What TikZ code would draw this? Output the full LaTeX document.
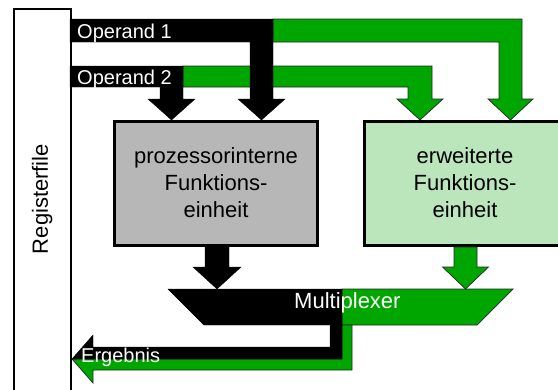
\documentclass[tikz,border=0pt]{standalone}
\usepackage{fontspec}
\setmainfont{Liberation Sans}
\definecolor{busgreen}{RGB}{0,166,0}
\definecolor{unitgrey}{RGB}{183,183,183}
\definecolor{unitgreen}{RGB}{187,230,187}

\begin{document}
\begin{tikzpicture}[x=1pt,y=-1pt,
  blackbus/.style={fill=black,draw=black,line width=0.4pt,line join=miter},
  greenbus/.style={fill=busgreen,draw=black!85,line width=0.7pt,line join=miter},
  unit/.style={draw=black,line width=3pt,inner sep=0pt,align=center,
               font=\fontsize{22}{27}\selectfont},
  bustext/.style={text=white,inner sep=0pt,font=\fontsize{20}{24}\selectfont},
  muxtext/.style={text=white,inner sep=0pt,font=\fontsize{22}{26}\selectfont}
]
\useasboundingbox (0,0) rectangle (558,389);
\begin{scope}
\clip (0,0) rectangle (558,389);

% register file column
\node[draw=black,line width=1.5pt,fill=white,minimum width=57pt,
      minimum height=400pt,anchor=north west] (regfile) at (13,8) {};
\node[rotate=90,anchor=base,font=\fontsize{22}{26}\selectfont]
      (reglabel) at (48,199) {Registerfile};

% operand buses (green branches first, black on top)
\draw[greenbus] (183,66) -- (432,66) -- (432,99) -- (443,99) -- (420,120)
  -- (397,99) -- (408,99) -- (408,87) -- (183,87) -- cycle;
\draw[greenbus] (273,19) -- (522,19) -- (522,99) -- (533,99) -- (510.5,120)
  -- (488,99) -- (499,99) -- (499,42) -- (273,42) -- cycle;
\draw[blackbus] (70,19) -- (273,19) -- (273,99) -- (285,99) -- (261.5,120)
  -- (238,99) -- (250,99) -- (250,42) -- (70,42) -- cycle;
\draw[blackbus] (70,66) -- (183,66) -- (183,99) -- (195,99) -- (171.5,120)
  -- (148,99) -- (160,99) -- (160,87) -- (70,87) -- cycle;
\node[bustext,anchor=base west] (op1) at (77,38.5) {Operand 1};
\node[bustext,anchor=base west] (op2) at (77,84) {Operand 2};

% function units
\node[unit,fill=unitgrey,minimum width=203pt,minimum height=124pt]
      (fu) at (216,183) {prozessorinterne\\Funktions-\\einheit};
\node[unit,fill=unitgreen,minimum width=202pt,minimum height=124pt]
      (ext) at (465,183) {erweiterte\\Funktions-\\einheit};

% unit outputs into the multiplexer
\draw[blackbus] (205,247) -- (229,247) -- (229,267) -- (241,267) -- (217,289)
  -- (193,267) -- (205,267) -- cycle;
\draw[greenbus] (454,247) -- (477,247) -- (477,267) -- (488.5,267) -- (465.5,289)
  -- (442.5,267) -- (454,267) -- cycle;

% multiplexer
\draw[greenbus] (342,289) -- (513,289) -- (477,325) -- (342,325) -- cycle;
\draw[blackbus] (168,289) -- (342,289) -- (342,325) -- (204,325) -- cycle;
\node[muxtext,anchor=base west] (mux) at (294,308) {Multiplexer};

% result back to the register file
\draw[greenbus] (342,325) -- (352,325) -- (352,370) -- (93,370) -- (93,383)
  -- (72,359) -- (342,359) -- cycle;
\draw[blackbus] (330,325) -- (342,325) -- (342,359) -- (72,359) -- (93,335)
  -- (93,347) -- (330,347) -- cycle;
\node[bustext,anchor=base west] (res) at (81,362) {Ergebnis};
\end{scope}
\end{tikzpicture}
\end{document}
